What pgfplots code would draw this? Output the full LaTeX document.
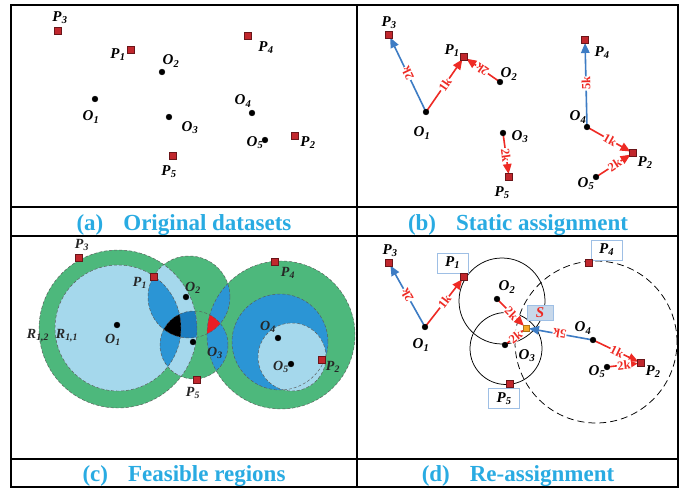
\documentclass[border=0pt]{standalone}
\usepackage{fontspec}
\setmainfont{Liberation Serif}
\usepackage{pgfplots}
\pgfplotsset{compat=1.18}
\usetikzlibrary{arrows.meta}
\definecolor{capblue}{HTML}{29ABE2}
\definecolor{sqred}{HTML}{C1272D}
\definecolor{arred}{HTML}{EE2A24}
\definecolor{arblue}{HTML}{3D7CC4}
\definecolor{fgreen}{HTML}{4DB87C}
\definecolor{flight}{HTML}{A5D8EC}
\definecolor{fdark}{HTML}{2B95D5}
\definecolor{fmid}{HTML}{1C7DC0}
\definecolor{fred}{HTML}{EC1C24}
\definecolor{sorange}{HTML}{F6A623}
\definecolor{boxedge}{HTML}{9EBFE5}
\definecolor{sbox}{HTML}{C8D8EA}
\newcommand\lab[2]{\textbf{\textit{#1}}\textsubscript{\textbf{\textit{#2}}}}
\tikzset{
  lab/.style={font=\fontsize{15}{17}\selectfont, inner sep=0pt},
  labc/.style={font=\fontsize{14}{16}\selectfont, inner sep=0pt, text=black!85},
  arr/.style={line width=1.6pt, -{Triangle[length=10pt,width=8.5pt]}, shorten >=3pt},
  kl/.style={font=\fontsize{12.5}{13}\selectfont\bfseries, text=arred, fill=white, inner sep=0.5pt, sloped, allow upside down, pos=0.5},
  capt/.style={font=\fontsize{23}{26}\selectfont\bfseries, text=capblue, anchor=base, inner sep=0pt},
  pbox/.style={draw=boxedge, fill=white, line width=0.9pt, minimum width=31pt, minimum height=20pt, inner sep=0pt, font=\fontsize{15}{17}\selectfont},
  cout/.style={densely dashed, draw=black!65, line width=0.45pt},
}
\begin{document}
\begin{tikzpicture}
\begin{axis}[scale only axis, width=683pt, height=489pt,
  xmin=0, xmax=683, ymin=0, ymax=489, y dir=reverse,
  hide axis, clip=false]
\fill[white] (axis cs:0,0) rectangle (axis cs:683,489);

% ---------- panel (c) feasible regions ----------
\fill[fgreen] (axis cs:118,329) circle[radius=79pt];
\fill[fgreen] (axis cs:189,297) circle[radius=41pt];
\fill[fgreen] (axis cs:194,345) circle[radius=34pt];
\fill[fgreen] (axis cs:281,335) circle[radius=74pt];
\fill[flight] (axis cs:118,328) circle[radius=63pt];
\begin{scope}
\clip (axis cs:118,329) circle[radius=79pt];
\fill[flight] (axis cs:189,297) circle[radius=41pt];
\fill[flight] (axis cs:194,345) circle[radius=34pt];
\end{scope}
\begin{scope}
\clip (axis cs:118,328) circle[radius=63pt];
\fill[fdark] (axis cs:189,297) circle[radius=41pt];
\fill[fdark] (axis cs:194,345) circle[radius=34pt];
\end{scope}
\begin{scope}
\clip (axis cs:281,335) circle[radius=74pt];
\fill[fdark] (axis cs:189,297) circle[radius=41pt];
\fill[fdark] (axis cs:194,345) circle[radius=34pt];
\end{scope}
\fill[fdark] (axis cs:280,342) circle[radius=48pt];
\fill[flight] (axis cs:292,357) circle[radius=34pt];
\begin{scope}
\clip (axis cs:118,329) circle[radius=79pt];
\clip (axis cs:189,297) circle[radius=41pt];
\fill[fmid] (axis cs:194,345) circle[radius=34pt];
\end{scope}
\begin{scope}
\clip (axis cs:118,328) circle[radius=63pt];
\clip (axis cs:189,297) circle[radius=41pt];
\fill[black] (axis cs:194,345) circle[radius=34pt];
\end{scope}
\begin{scope}
\clip (axis cs:281,335) circle[radius=74pt];
\clip (axis cs:189,297) circle[radius=41pt];
\fill[fred] (axis cs:194,345) circle[radius=34pt];
\end{scope}
\draw[cout] (axis cs:118,329) circle[radius=79pt];
\draw[cout] (axis cs:118,328) circle[radius=63pt];
\draw[cout] (axis cs:189,297) circle[radius=41pt];
\draw[cout] (axis cs:194,345) circle[radius=34pt];
\draw[cout] (axis cs:281,335) circle[radius=74pt];
\draw[cout] (axis cs:280,342) circle[radius=48pt];
\draw[cout] (axis cs:292,357) circle[radius=34pt];

% ---------- panel (d) circles ----------
\draw[black, line width=0.75pt] (axis cs:502,301) circle[radius=43pt];
\draw[black, line width=0.75pt] (axis cs:506,348.5) circle[radius=36pt];
\draw[black, line width=0.75pt, dash pattern=on 7pt off 4pt] (axis cs:596,342) circle[radius=81pt];

% ---------- frame ----------
\draw[line width=1.5pt] (axis cs:11,5) rectangle (axis cs:678,487);
\draw[line width=1.5pt] (axis cs:357,5) -- (axis cs:357,487);
\draw[line width=1.5pt] (axis cs:11,207) -- (axis cs:678,207);
\draw[line width=1.5pt] (axis cs:11,236) -- (axis cs:678,236);
\draw[line width=1.5pt] (axis cs:11,459) -- (axis cs:678,459);

% ---------- arrows (b) ----------
\addplot[arblue, arr] coordinates {(426,112) (389,35)} node[kl]{2k};
\addplot[arred, arr] coordinates {(426,112) (464,57)} node[kl]{1k};
\addplot[arred, arr] coordinates {(500,82) (464,57)} node[kl]{2k};
\addplot[arred, arr] coordinates {(503,133) (509,177)} node[kl]{2k};
\addplot[arblue, arr] coordinates {(587,127) (585,40)} node[kl]{5k};
\addplot[arred, arr] coordinates {(587,127) (633,153)} node[kl]{1k};
\addplot[arred, arr] coordinates {(596,177) (633,153)} node[kl]{2k};
% ---------- arrows (d) ----------
\addplot[arblue, arr] coordinates {(425,327) (389,263)} node[kl]{2k};
\addplot[arred, arr] coordinates {(425,327) (464,277)} node[kl]{1k};
\addplot[arred, arr] coordinates {(497,299) (526,328)} node[kl]{2k};
\addplot[arred, arr] coordinates {(505,345) (526,328)} node[kl]{2k};
\addplot[arblue, arr] coordinates {(593,340) (526,328)} node[kl]{5k};
\addplot[arred, arr] coordinates {(593,340) (641,363)} node[kl]{1k};
\addplot[arred, arr] coordinates {(607,367) (641,363)} node[kl]{2k};

% ---------- points ----------
\addplot[only marks, mark=square*, mark size=3.4pt,
  mark options={fill=sqred, draw=sqred!55!black, line width=0.4pt}] coordinates {
 (58,31) (131,50) (248,36) (295,136) (173,156)
 (389,35) (464,57) (585,40) (633,153) (509,177)
 (79,258) (154,277) (275,262) (322,360) (197,380)
 (389,263) (464,277) (589,263) (641,363) (510,384)};
\addplot[only marks, mark=*, mark size=2.9pt, black] coordinates {
 (95,99) (162,72) (169,117) (252,113) (265,140)
 (426,112) (500,82) (503,133) (587,127) (596,177)
 (117,325) (186,297) (193,342) (278,338) (291,364)
 (425,327) (497,299) (505,345) (593,340) (607,367)};
\addplot[only marks, mark=square*, mark size=3.2pt,
  mark options={fill=sorange, draw=sorange!70!black, line width=0.3pt}] coordinates {(526,328)};

% ---------- labels (a) ----------
\node[lab] at (axis cs:60,18) {\lab{P}{3}};
\node[lab] at (axis cs:118,55) {\lab{P}{1}};
\node[lab] at (axis cs:171,61) {\lab{O}{2}};
\node[lab] at (axis cs:266,48) {\lab{P}{4}};
\node[lab] at (axis cs:91,117) {\lab{O}{1}};
\node[lab] at (axis cs:190,128) {\lab{O}{3}};
\node[lab] at (axis cs:243,101) {\lab{O}{4}};
\node[lab] at (axis cs:255,143) {\lab{O}{5}};
\node[lab] at (axis cs:308,143) {\lab{P}{2}};
\node[lab] at (axis cs:169,172) {\lab{P}{5}};
% ---------- labels (b) ----------
\node[lab] at (axis cs:389,23) {\lab{P}{3}};
\node[lab] at (axis cs:452,51) {\lab{P}{1}};
\node[lab] at (axis cs:509,74) {\lab{O}{2}};
\node[lab] at (axis cs:422,133) {\lab{O}{1}};
\node[lab] at (axis cs:520,137) {\lab{O}{3}};
\node[lab] at (axis cs:502,193) {\lab{P}{5}};
\node[lab] at (axis cs:602,53) {\lab{P}{4}};
\node[lab] at (axis cs:578,117) {\lab{O}{4}};
\node[lab] at (axis cs:645,163) {\lab{P}{2}};
\node[lab] at (axis cs:586,184) {\lab{O}{5}};
% ---------- labels (c) ----------
\node[labc] at (axis cs:82,245) {\lab{P}{3}};
\node[labc] at (axis cs:140,283) {\lab{P}{1}};
\node[labc] at (axis cs:193,288) {\lab{O}{2}};
\node[labc] at (axis cs:38,336) {\lab{R}{1,2}};
\node[labc] at (axis cs:67,336) {\lab{R}{1,1}};
\node[labc] at (axis cs:113,340) {\lab{O}{1}};
\node[labc] at (axis cs:215,353) {\lab{O}{3}};
\node[labc] at (axis cs:193,393) {\lab{P}{5}};
\node[labc] at (axis cs:288,273) {\lab{P}{4}};
\node[labc] at (axis cs:268,327) {\lab{O}{4}};
\node[labc] at (axis cs:281,367) {\lab{O}{5}};
\node[labc] at (axis cs:333,367) {\lab{P}{2}};
% ---------- labels (d) ----------
\node[lab] at (axis cs:390,251) {\lab{P}{3}};
\node[pbox] at (axis cs:452.5,263) {\lab{P}{1}};
\node[lab] at (axis cs:421,345) {\lab{O}{1}};
\node[lab] at (axis cs:507,287) {\lab{O}{2}};
\node[lab] at (axis cs:527,356) {\lab{O}{3}};
\node[lab] at (axis cs:583,328) {\lab{O}{4}};
\node[lab] at (axis cs:653,372) {\lab{P}{2}};
\node[lab] at (axis cs:597,372) {\lab{O}{5}};
\node[pbox] at (axis cs:606.5,250) {\lab{P}{4}};
\node[pbox] at (axis cs:504,398.5) {\lab{P}{5}};
\node[draw=boxedge, fill=sbox, line width=0.9pt, minimum width=26pt, minimum height=15pt, inner sep=0pt,
  font=\fontsize{15}{17}\selectfont] at (axis cs:540,312.5) {\textcolor{arred}{\textbf{\textit{S}}}};

% ---------- captions ----------
\node[capt] at (axis cs:184,231) {(a)\hspace{20pt}Original datasets};
\node[capt] at (axis cs:518,231) {(b)\hspace{20pt}Static assignment};
\node[capt] at (axis cs:184,481) {(c)\hspace{20pt}Feasible regions};
\node[capt] at (axis cs:518,481) {(d)\hspace{20pt}Re-assignment};
\end{axis}
\end{tikzpicture}
\end{document}
